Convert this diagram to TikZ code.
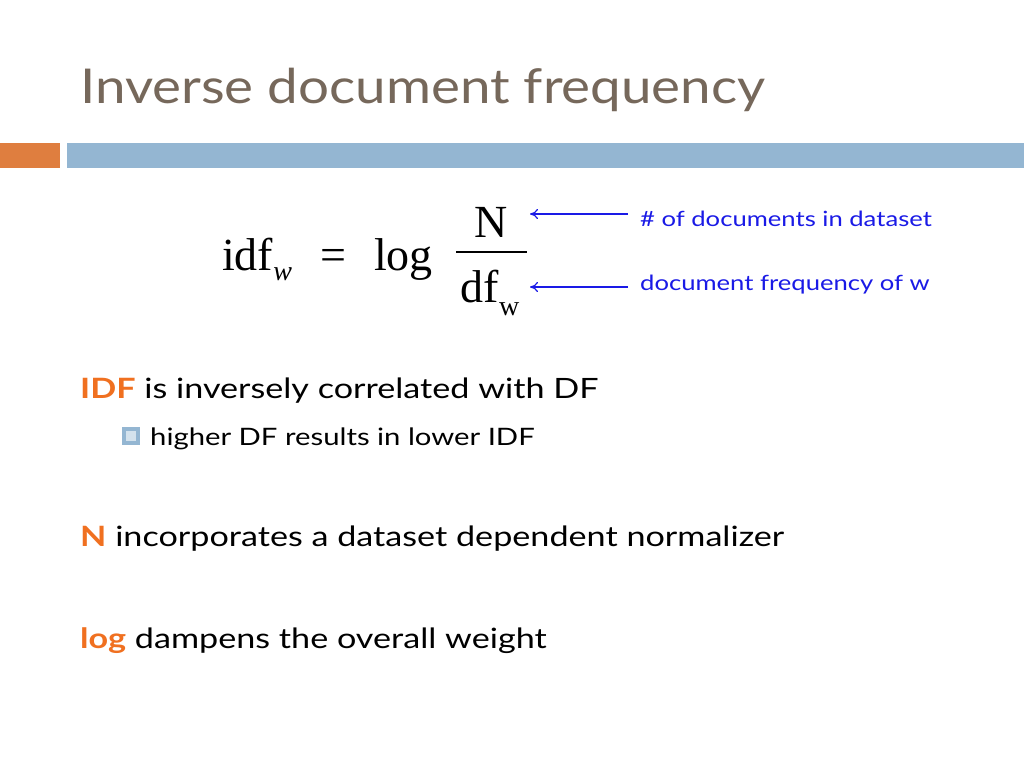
\documentclass[tikz,border=0pt]{standalone}
\usepackage{fontspec}
\setmainfont{Lato}[FakeStretch=1.22]
\newfontfamily\ttlfont{Lato}[FakeStretch=1.14]
\newfontfamily\tms{Liberation Serif}
\usetikzlibrary{arrows.meta}
\definecolor{ttl}{HTML}{76685B}
\definecolor{org}{HTML}{DF7E3F}
\definecolor{blu}{HTML}{94B6D2}
\definecolor{hl}{HTML}{F07020}
\definecolor{lb}{HTML}{1A1AE6}
\tikzset{x=1pt,y=-1pt,
 body/.style={anchor=base west,inner sep=0,font=\fontsize{28}{32}\selectfont},
 sub/.style={anchor=base west,inner sep=0,font=\fontsize{24}{28}\selectfont},
 ann/.style={anchor=base west,inner sep=0,text=lb,font=\fontsize{21}{24}\selectfont},
 math/.style={anchor=base west,inner sep=0,font=\tms\fontsize{46}{50}\selectfont},
 arr/.style={draw=lb,line width=1.2pt,-{To[length=8pt,width=10pt]}}}
\begin{document}
\begin{tikzpicture}
\useasboundingbox[fill=white] (0,0) rectangle (1024,768);
\node[anchor=base west,inner sep=0,text=ttl,font=\ttlfont\fontsize{48}{52}\selectfont] (t) at (80,103) {Inverse document frequency};
\fill[org] (0,143) rectangle (60,168);
\fill[blu] (67,143) rectangle (1024,168);
\node[math] (idf) at (222,270) {idf\raisebox{-10pt}{\fontsize{28}{30}\selectfont\itshape w}};
\node[math] (eq) at (320,270) {=};
\node[math] (log) at (374,270) {log};
\node[math,anchor=base] (N) at (491,237) {N};
\node[math,anchor=base] (df) at (490,302) {df\raisebox{-13pt}{\fontsize{28}{30}\selectfont w}};
\draw[line width=1.2pt] (456,252) -- (527,252);
\node[ann] (a1) at (640,226) {\# of documents in dataset};
\node[ann] (a2) at (640,290) {document frequency of w};
\coordinate (c1) at (628,214); \coordinate (e1) at (530,214);
\coordinate (c2) at (628,287); \coordinate (e2) at (530,287);
\draw[arr] (c1) -- (e1);
\draw[arr] (c2) -- (e2);
\node[body] (l1) at (80,398) {\textcolor{hl}{\bfseries IDF} is inversely correlated with DF};
\fill[blu] (122,427) rectangle (140,445);
\fill[blu!40] (126,431) rectangle (136,441);
\node[sub] (l2) at (150,445) {higher DF results in lower IDF};
\node[body] (l3) at (80,546) {\textcolor{hl}{\bfseries N} incorporates a dataset dependent normalizer};
\node[body] (l4) at (80,648) {\textcolor{hl}{\bfseries log} dampens the overall weight};
\end{tikzpicture}
\end{document}
